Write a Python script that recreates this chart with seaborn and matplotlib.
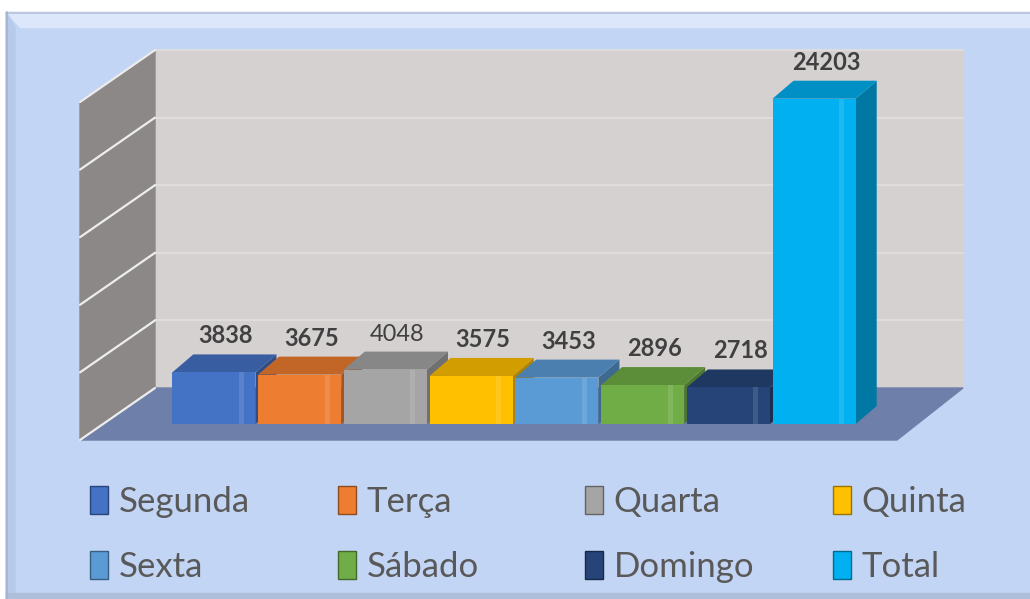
import matplotlib
matplotlib.use('Agg')
import matplotlib.pyplot as plt
import numpy as np
import pandas as pd
import seaborn as sns
from matplotlib.colors import to_rgb
from matplotlib.patches import Polygon, Rectangle, Patch
from matplotlib.transforms import IdentityTransform

# ---------------------------------------------------------------------------
#   Data
# ---------------------------------------------------------------------------
days = ['Segunda', 'Terça', 'Quarta', 'Quinta', 'Sexta', 'Sábado', 'Domingo', 'Total']
counts = [3838, 3675, 4048, 3575, 3453, 2896, 2718, 24203]
colors = ['#4472C4', '#ED7D31', '#A5A5A5', '#FFC000',
          '#5B9BD5', '#70AD47', '#264478', '#00B0F0']
bold_label = [True, True, False, True, True, True, True, True]
yticks = [5000, 10000, 15000, 20000, 25000]
YMAX = 25000

W, H = 1030, 599   # output size in pixels (dpi 100)


def shade(c, f):
    return tuple(np.clip(np.array(to_rgb(c)) * f, 0, 1))


sns.set_style('white')
plt.rcParams['font.family'] = ['Lato', 'DejaVu Sans']

fig = plt.figure(figsize=(W / 100, H / 100), dpi=100, facecolor='white')

# ---------------------------------------------------------------------------
#   Background panel and the fake 3-D walls (pixel coordinates, y down)
# ---------------------------------------------------------------------------
bg = fig.add_axes([0, 0, 1, 1], zorder=0)
bg.set_xlim(0, W)
bg.set_ylim(H, 0)
bg.axis('off')

bg.add_patch(Rectangle((6, 12), W - 6, H - 12, color='#C3D5F4'))
bg.add_patch(Polygon([(6, 12), (W, 12), (W, 27), (20, 27)], color='#DCE7FB'))
bg.add_patch(Polygon([(6, 12), (15, 27), (15, 591), (6, H)], color='#B8CAEA'))
bg.add_patch(Rectangle((6, 593), W - 6, 6, color='#AEBFDC'))
bg.plot([6, W], [12.5, 12.5], color='#B5C2D8', lw=1.2)
bg.plot([6.5, 6.5], [12, H], color='#A4B4CF', lw=1.2)

wall_l, wall_r, wall_top, wall_bot = 155, 963, 50, 388
dep_y = 52
front_l, front_r, front_y = 80, 897, 440

bg.add_patch(Rectangle((wall_l, wall_top), wall_r - wall_l, wall_bot - wall_top,
                       color='#D5D1D1'))
bg.add_patch(Polygon([(front_l, front_y), (front_l, wall_top + dep_y),
                      (wall_l, wall_top), (wall_l, wall_bot)], color='#8C8888'))
bg.add_patch(Polygon([(front_l, front_y), (wall_l, wall_bot),
                      (wall_r, wall_bot), (front_r, front_y)], color='#6E80A9'))

for v in yticks:
    yb = wall_bot - v / YMAX * (wall_bot - wall_top)
    bg.plot([wall_l, wall_r], [yb, yb], color='#E2DFDF', lw=1.2)
    bg.plot([front_l, wall_l], [yb + dep_y, yb], color='#EDEDED', lw=1.6)
bg.plot([front_l, wall_l], [front_y, wall_bot], color='#EDEDED', lw=1.6)

# ---------------------------------------------------------------------------
#   Bars
# ---------------------------------------------------------------------------
df = pd.DataFrame({'day': days, 'count': counts})

ax = fig.add_axes([171 / W, (H - 424) / H, 686 / W, 336 / H], zorder=1)
sns.barplot(data=df, x='day', y='count', hue='day', order=days, hue_order=days,
            palette=colors, dodge=False, width=0.97, saturation=1,
            legend=False, ax=ax)
ax.set_xlim(-0.5, len(days) - 0.5)
ax.set_ylim(0, YMAX)
ax.axis('off')

bars = sorted(ax.patches, key=lambda p: p.get_x())
DX, DY = 21, 18   # depth of each bar, pixels
for i, (bar, c, v, b) in enumerate(zip(bars, colors, counts, bold_label)):
    x0, w, h = bar.get_x(), bar.get_width(), bar.get_height()
    (px0, py0), (px1, py1) = ax.transData.transform([(x0, 0), (x0 + w, h)])
    top = [(px0, py1), (px1, py1), (px1 + DX, py1 + DY), (px0 + DX, py1 + DY)]
    side = [(px1, py0), (px1 + DX, py0 + DY), (px1 + DX, py1 + DY), (px1, py1)]
    z = 2 + i * 0.01
    ax.add_patch(Polygon(side, closed=True, facecolor=shade(c, 0.68), lw=0,
                         transform=IdentityTransform(), clip_on=False, zorder=z))
    ax.add_patch(Polygon(top, closed=True, facecolor=shade(c, 0.82), lw=0,
                         transform=IdentityTransform(), clip_on=False, zorder=z))
    bar.set_zorder(z + 0.005)
    bar.set_linewidth(0)
    bar.set_clip_on(False)
    # light stripe near the right edge of the front face
    ax.add_patch(Rectangle((x0 + w * 0.80, 0), w * 0.06, h, transform=ax.transData,
                           facecolor='white', alpha=0.12, lw=0, clip_on=False,
                           zorder=z + 0.006))
    ax.annotate(f'{v}', xy=(x0 + w / 2, h), xytext=(12, 29),
                textcoords='offset pixels', ha='center', va='baseline',
                fontsize=17, fontweight='bold' if b else 'normal',
                color='#404040', annotation_clip=False, zorder=5)

# ---------------------------------------------------------------------------
#   Legend: 4 columns of 2 rows, each column placed on its own
# ---------------------------------------------------------------------------
handles = [Patch(facecolor=c, edgecolor=shade(c, 0.6), lw=1) for c in colors]
col_x = [90, 338, 585, 833]
for j, cx in enumerate(col_x):
    idx = [j, j + 4]
    fig.legend([handles[k] for k in idx], [days[k] for k in idx],
               ncol=1, loc='upper left', bbox_to_anchor=(cx / W, 1 - 486 / H),
               frameon=False, fontsize=25, handlelength=0.52, handleheight=0.85,
               handletextpad=0.3, labelspacing=0.95,
               labelcolor='#595959', borderpad=0, borderaxespad=0)

fig.savefig('out.png', dpi=100, facecolor=fig.get_facecolor())
